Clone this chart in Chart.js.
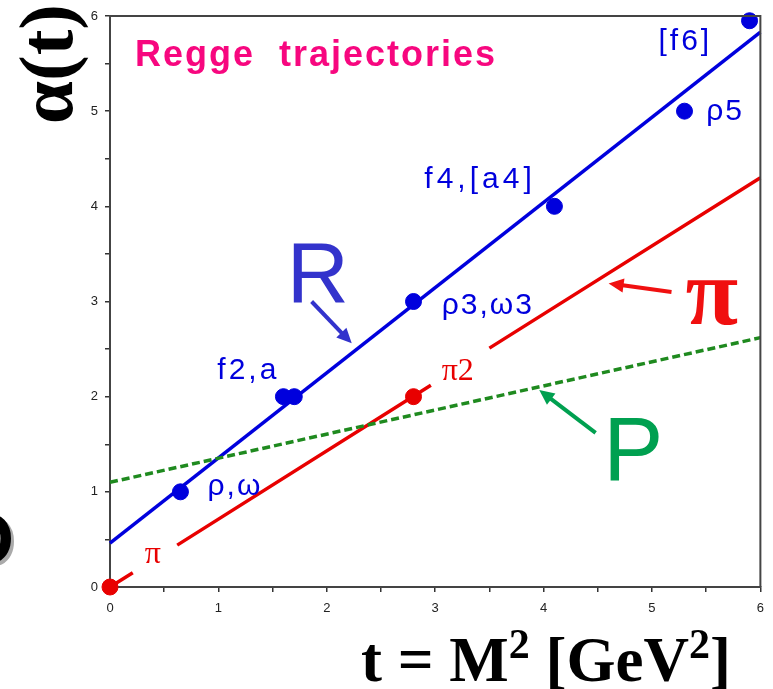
<!DOCTYPE html>
<html>
<head>
<meta charset="utf-8">
<script src="https://cdn.jsdelivr.net/npm/chart.js@4.4.0/dist/chart.umd.min.js"></script>
<style>
  html, body { margin: 0; padding: 0; background: #fff; }
  #wrap { width: 773px; height: 689px; }
</style>
</head>
<body>
<div id="wrap"><canvas id="reggeChart" width="773" height="689"></canvas></div>
<script>
// measured mesons (t = M^2, alpha = spin)
const mesonT = [0.65, 1.6, 1.7, 2.8, 4.1, 5.3, 5.9];
const mesonAlpha = [1, 2, 2, 3, 4, 5, 5.95];
const pionT = [0, 2.8];
const pionAlpha = [0, 2];

// trajectory lines (null = gap left for a label)
const rhoLineT = [0, 6];
const rhoLineAlpha = [0.46, 5.83];
const pionLineT = [0, 0.21, 0.4, 0.62, 2.96, 3.2, 3.5, 6];
const pionLineAlpha = [0, 0.15, null, 0.44, 2.12, null, 2.51, 4.3];
const pomeronLineT = [0, 6];
const pomeronLineAlpha = [1.1, 2.62];

const xTicks = [0, 1, 2, 3, 4, 5, 6];
const yTicks = [0, 1, 2, 3, 4, 5, 6];

const BLUE = '#0000dd';
const RED = '#e80000';
const GREEN = '#1f8a1f';

function pts(xs, ys) {
    return xs.map((x, i) => ({ x: x, y: ys[i] }));
}

// text labels in data coordinates: [text, t, alpha, font, color, letter spacing]
const labels = [
    ['Regge  trajectories', 0.23, 5.58, 'bold 36px "Liberation Sans"', '#f7077f', '2px'],
    ['[f6]', 5.06, 5.73, '30px "Liberation Sans"', BLUE, '3px'],
    ['\u03c15', 5.50, 4.99, '30px "Liberation Sans"', BLUE, '2px'],
    ['f4,[a4]', 2.90, 4.28, '30px "Liberation Sans"', BLUE, '4px'],
    ['\u03c13,\u03c93', 3.06, 2.96, '30px "Liberation Sans"', BLUE, '2px'],
    ['f2,a', 0.99, 2.27, '30px "Liberation Sans"', BLUE, '3px'],
    ['\u03c1,\u03c9', 0.90, 1.05, '30px "Liberation Sans"', BLUE, '2px'],
    ['\u03c02', 3.06, 2.26, '32px "Liberation Serif"', RED, '0px'],
    ['\u03c0', 0.32, 0.34, '32px "Liberation Serif"', RED, '0px'],
    ['R', 1.63, 3.24, '86px "Liberation Sans"', '#3333cc', '0px'],
    ['\u03c0', 5.31, 3.02, 'bold 96px "Liberation Serif"', '#f01010', '0px'],
    ['P', 4.55, 1.38, '90px "Liberation Sans"', '#00a050', '0px']
];

// arrows: [t0, a0, t1, a1, color]
const arrows = [
    [1.86, 3.00, 2.23, 2.56, '#3333cc'],
    [5.18, 3.10, 4.60, 3.19, '#f01010'],
    [4.48, 1.62, 3.96, 2.07, '#00a050']
];

function drawArrow(ctx, x0, y0, x1, y1, color) {
    const ang = Math.atan2(y1 - y0, x1 - x0);
    const head = 15;
    ctx.strokeStyle = color;
    ctx.fillStyle = color;
    ctx.lineWidth = 4;
    ctx.beginPath();
    ctx.moveTo(x0, y0);
    ctx.lineTo(x1 - head * 0.7 * Math.cos(ang), y1 - head * 0.7 * Math.sin(ang));
    ctx.stroke();
    ctx.beginPath();
    ctx.moveTo(x1, y1);
    ctx.lineTo(x1 - head * Math.cos(ang) + 7 * Math.sin(ang), y1 - head * Math.sin(ang) - 7 * Math.cos(ang));
    ctx.lineTo(x1 - head * Math.cos(ang) - 7 * Math.sin(ang), y1 - head * Math.sin(ang) + 7 * Math.cos(ang));
    ctx.closePath();
    ctx.fill();
}

const decorations = {
    id: 'decorations',
    afterDraw(chart) {
        const ctx = chart.ctx;
        const xs = chart.scales.x;
        const ys = chart.scales.y;
        const area = chart.chartArea;
        ctx.save();

        // frame top and right
        ctx.strokeStyle = '#444';
        ctx.lineWidth = 2;
        ctx.beginPath();
        ctx.moveTo(area.left, area.top);
        ctx.lineTo(area.right, area.top);
        ctx.lineTo(area.right, area.bottom);
        ctx.stroke();

        ctx.textBaseline = 'middle';
        ctx.textAlign = 'left';
        labels.forEach(([text, t, a, font, color, spacing]) => {
            ctx.font = font;
            ctx.fillStyle = color;
            ctx.letterSpacing = spacing;
            ctx.fillText(text, xs.getPixelForValue(t), ys.getPixelForValue(a));
        });
        ctx.letterSpacing = '0px';

        arrows.forEach(([t0, a0, t1, a1, color]) => {
            drawArrow(ctx, xs.getPixelForValue(t0), ys.getPixelForValue(a0),
                xs.getPixelForValue(t1), ys.getPixelForValue(a1), color);
        });

        // y axis title
        ctx.save();
        ctx.translate(52, 64);
        ctx.rotate(-Math.PI / 2);
        ctx.font = 'bold 77px "Liberation Serif"';
        ctx.fillStyle = '#000';
        ctx.textAlign = 'center';
        ctx.fillText('\u03b1(t)', 0, 0);
        ctx.restore();

        // x axis title with superscripts
        const parts = [
            ['t = M', 'bold 63px "Liberation Serif"', 0],
            ['2', 'bold 42px "Liberation Serif"', -23],
            [' [GeV', 'bold 63px "Liberation Serif"', 0],
            ['2', 'bold 42px "Liberation Serif"', -23],
            [']', 'bold 63px "Liberation Serif"', 0]
        ];
        ctx.textBaseline = 'alphabetic';
        let total = 0;
        parts.forEach(([s, f]) => { ctx.font = f; total += ctx.measureText(s).width; });
        let cx = 546 - total / 2;
        parts.forEach(([s, f, dy]) => {
            ctx.font = f;
            ctx.fillStyle = '#000';
            ctx.fillText(s, cx, 681 + dy);
            cx += ctx.measureText(s).width;
        });

        // cut-off letter at the left edge
        ctx.font = 'bold 72px "Liberation Sans"';
        ctx.textAlign = 'right';
        ctx.textBaseline = 'middle';
        ctx.fillStyle = '#aaa';
        ctx.fillText('O', 17, 547);
        ctx.fillStyle = '#000';
        ctx.fillText('O', 14, 544);

        ctx.restore();
    }
};

const tickOpts = {
    min: 0,
    max: 6,
    ticks: {
        stepSize: 0.5,
        color: '#222',
        font: { family: 'Liberation Sans', size: 13 },
        callback: v => (Number.isInteger(v) ? String(v) : '')
    },
    grid: {
        drawOnChartArea: false,
        drawTicks: true,
        tickLength: 5,
        color: '#333',
        lineWidth: 1.5
    },
    border: { display: true, color: '#444', width: 2 }
};

new Chart(document.getElementById('reggeChart').getContext('2d'), {
    type: 'scatter',
    data: {
        datasets: [
            {
                label: 'pomeron',
                data: pts(pomeronLineT, pomeronLineAlpha),
                showLine: true,
                borderColor: GREEN,
                borderWidth: 3.5,
                borderDash: [8, 4],
                pointRadius: 0,
                clip: false
            },
            {
                label: 'rho',
                data: pts(rhoLineT, rhoLineAlpha),
                showLine: true,
                borderColor: BLUE,
                borderWidth: 3.5,
                pointRadius: 0,
                clip: false
            },
            {
                label: 'pion',
                data: pts(pionLineT, pionLineAlpha),
                showLine: true,
                spanGaps: false,
                borderColor: RED,
                borderWidth: 3.5,
                pointRadius: 0,
                clip: false
            },
            {
                label: 'mesons',
                data: pts(mesonT, mesonAlpha),
                backgroundColor: BLUE,
                borderColor: BLUE,
                pointRadius: 8,
                clip: false
            },
            {
                label: 'pions',
                data: pts(pionT, pionAlpha),
                backgroundColor: RED,
                borderColor: RED,
                pointRadius: 8,
                clip: false
            }
        ]
    },
    options: {
        responsive: false,
        animation: false,
        layout: { padding: { left: 0, top: 16, right: 11, bottom: 0 } },
        plugins: {
            legend: { display: false },
            tooltip: { enabled: false }
        },
        scales: {
            x: Object.assign({}, tickOpts, {
                type: 'linear',
                ticks: Object.assign({}, tickOpts.ticks, { padding: 9, maxRotation: 0 }),
                afterFit: s => { s.height = 102; }
            }),
            y: Object.assign({}, tickOpts, {
                type: 'linear',
                ticks: Object.assign({}, tickOpts.ticks, { padding: 7 }),
                afterFit: s => { s.width = 110; }
            })
        }
    },
    plugins: [decorations]
});
</script>
</body>
</html>
